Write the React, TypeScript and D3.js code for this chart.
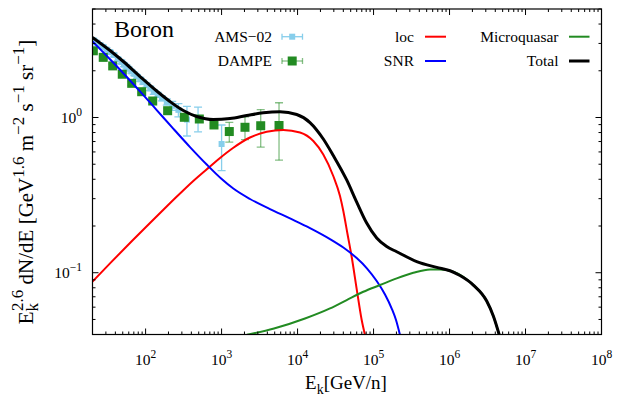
import React from 'react';
import * as d3 from 'd3';

// ---------- data ----------
const amsE = [20.5, 22.5, 25, 27.5, 30.5, 34, 38, 43, 48, 52, 56, 60, 65, 71, 77, 85, 93, 103, 115, 128, 144, 164, 190, 224, 270, 350, 490, 1000];
const amsV = [3.14, 3.04, 2.93, 2.85, 2.74, 2.64, 2.53, 2.38, 2.28, 2.19, 2.12, 2.06, 1.98, 1.91, 1.84, 1.76, 1.69, 1.62, 1.54, 1.46, 1.40, 1.33, 1.26, 1.19, 1.12, 0.97, 0.988, 0.675];
const amsErr = [0.09, 0.09, 0.08, 0.08, 0.08, 0.07, 0.07, 0.06, 0.06, 0.06, 0.06, 0.05, 0.05, 0.05, 0.05, 0.05, 0.05, 0.05, 0.05, 0.05, 0.05, 0.05, 0.06, 0.08, 0.11, 0.21, 0.18, 0.22];

const dampeE = [20.5, 27.7, 36.9, 49.3, 65.6, 88.8, 124, 195, 323, 509, 794, 1263, 2032, 3273, 5700];
const dampeV = [2.69, 2.44, 2.15, 1.90, 1.66, 1.466, 1.277, 1.106, 1.003, 0.978, 0.895, 0.812, 0.865, 0.885, 0.888];
const dampeErr = [0.08, 0.07, 0.06, 0.05, 0.05, 0.04, 0.04, 0.04, 0.04, 0.045, 0.04, 0.117, 0.145, 0.24, 0.357];

const totalE = [20, 34.0, 50.9, 84.4, 140, 209, 313, 470, 778, 1290, 2140, 3540, 5870, 9740, 14570, 21800, 29500, 44300, 60000, 81200, 110000, 149000, 201700, 369800, 678000, 1.015e6, 1.373e6, 2.055e6, 3.084e6, 3.77e6, 4.52e6];
const totalV = [3.28, 2.702, 2.295, 1.837, 1.481, 1.268, 1.109, 1.015, 0.970, 0.985, 1.030, 1.072, 1.088, 1.045, 0.928, 0.727, 0.569, 0.396, 0.2853, 0.209, 0.1674, 0.1475, 0.1365, 0.118, 0.1083, 0.103, 0.0959, 0.0833, 0.0657, 0.0526, 0.0397];

const snrE = [20, 34.0, 50.9, 84.4, 140, 231, 384, 637, 1003, 1426, 2365, 4336, 7950, 14570, 26720, 40000, 60000, 81200, 110000, 141500, 173400, 197500, 222900];
const snrV = [3.09, 2.371, 1.929, 1.473, 1.117, 0.848, 0.645, 0.498, 0.4015, 0.3485, 0.2985, 0.2572, 0.2238, 0.194, 0.1648, 0.1453, 0.1243, 0.1072, 0.0884, 0.0724, 0.0588, 0.0496, 0.0397];

const locE = [20, 34.0, 65.6, 114.2, 209, 424, 704, 953, 1413, 2365, 3924, 6490, 10770, 16110, 21800, 29500, 36170, 40000, 45400, 51580, 60000, 69820, 77190];
const locV = [0.0877, 0.1149, 0.1595, 0.2093, 0.2800, 0.3904, 0.4832, 0.548, 0.6358, 0.743, 0.809, 0.831, 0.800, 0.7054, 0.5773, 0.4198, 0.3119, 0.2497, 0.1775, 0.1262, 0.0785, 0.0496, 0.0397];

const mqE = [2160, 4896, 12520, 26720, 44300, 73300, 121600, 201700, 333600, 553400, 749000, 1.121e6, 1.518e6, 2.055e6, 3.084e6, 3.77e6, 4.52e6];
const mqV = [0.0398, 0.0437, 0.0507, 0.0589, 0.0667, 0.0754, 0.0833, 0.092, 0.0999, 0.1051, 0.1051, 0.1015, 0.0942, 0.0833, 0.0657, 0.0526, 0.0397];

const xTickExp = [2, 3, 4, 5, 6, 7, 8];
const yTickExp = [-1, 0];

// ---------- layout ----------
const W = 626, H = 396;
const X0 = 92.5, X1 = 601.5, Y0 = 9, Y1 = 334.5;
const FONT = "'Liberation Serif', 'Times New Roman', serif";

const C_AMS = '#87CEEB';
const C_GREEN = '#228B22';
const C_RED = '#FF0000';
const C_BLUE = '#0000FF';

export default function App() {
  const x = d3.scaleLog().domain([20, 1e8]).range([X0, X1]);
  const y = d3.scaleLog().domain([0.04, 5]).range([Y1, Y0]);
  const line = d3.line<[number, number]>().x(d => x(d[0])).y(d => y(d[1])).curve(d3.curveMonotoneX);
  const pts = (E: number[], V: number[]) => E.map((e, i) => [e, V[i]] as [number, number]);

  const xMinor: number[] = [];
  for (let k = 1; k <= 7; k++) for (let m = 2; m <= 9; m++) { const v = m * Math.pow(10, k); if (v >= 20 && v < 1e8) xMinor.push(v); }
  const yMinor: number[] = [];
  for (let k = -2; k <= 0; k++) for (let m = 2; m <= 9; m++) { const v = m * Math.pow(10, k); if (v >= 0.04 && v <= 5) yMinor.push(v); }

  const ticks: JSX.Element[] = [];
  xTickExp.forEach(e => {
    const px = x(Math.pow(10, e));
    ticks.push(<line key={'xM' + e} x1={px} x2={px} y1={Y1} y2={Y1 - 6} />);
    ticks.push(<line key={'xMt' + e} x1={px} x2={px} y1={Y0} y2={Y0 + 6} />);
  });
  xMinor.forEach((v, i) => {
    const px = x(v);
    ticks.push(<line key={'xm' + i} x1={px} x2={px} y1={Y1} y2={Y1 - 3} />);
    ticks.push(<line key={'xmt' + i} x1={px} x2={px} y1={Y0} y2={Y0 + 3} />);
  });
  yTickExp.forEach(e => {
    const py = y(Math.pow(10, e));
    ticks.push(<line key={'yM' + e} x1={X0} x2={X0 + 6} y1={py} y2={py} />);
    ticks.push(<line key={'yMr' + e} x1={X1} x2={X1 - 6} y1={py} y2={py} />);
  });
  yMinor.forEach((v, i) => {
    const py = y(v);
    ticks.push(<line key={'ym' + i} x1={X0} x2={X0 + 3} y1={py} y2={py} />);
    ticks.push(<line key={'ymr' + i} x1={X1} x2={X1 - 3} y1={py} y2={py} />);
  });

  const errBars = (E: number[], V: number[], Er: number[], color: string, op: number, key: string) =>
    E.map((e, i) => {
      const px = x(e);
      const hi = y(V[i] + Er[i]);
      const lo = y(Math.max(V[i] - Er[i], 0.001));
      return (
        <g key={key + i} stroke={color} strokeOpacity={op} strokeWidth={1.3}>
          <line x1={px} x2={px} y1={hi} y2={lo} />
          <line x1={px - 4} x2={px + 4} y1={hi} y2={hi} />
          <line x1={px - 4} x2={px + 4} y1={lo} y2={lo} />
        </g>
      );
    });

  const legRow1 = 36.7, legRow2 = 61;
  const legendText = (tx: number, ty: number, s: string) => (
    <text x={tx} y={ty + 5} textAnchor="end" fontSize={15.5} fontFamily={FONT}>{s}</text>
  );

  const SUP = 17;

  return (
    <svg width={W} height={H} style={{ position: 'absolute', left: 0, top: 0, background: '#fff' }}>
      <defs>
        <clipPath id="plotclip"><rect x={X0} y={Y0} width={X1 - X0} height={Y1 - Y0} /></clipPath>
      </defs>
      <rect x={0} y={0} width={W} height={H} fill="#fff" />

      <g clipPath="url(#plotclip)">
        {errBars(amsE, amsV, amsErr, C_AMS, 1, 'ae')}
        {amsE.map((e, i) => <rect key={'a' + i} x={x(e) - 3} y={y(amsV[i]) - 3} width={6} height={6} fill={C_AMS} />)}
        {errBars(dampeE, dampeV, dampeErr, C_GREEN, 0.55, 'de')}
        {dampeE.map((e, i) => <rect key={'d' + i} x={x(e) - 4.5} y={y(dampeV[i]) - 4.5} width={9} height={9} fill={C_GREEN} />)}

        <path d={line(pts(locE, locV)) || ''} fill="none" stroke={C_RED} strokeWidth={2} />
        <path d={line(pts(snrE, snrV)) || ''} fill="none" stroke={C_BLUE} strokeWidth={2} />
        <path d={line(pts(mqE, mqV)) || ''} fill="none" stroke={C_GREEN} strokeWidth={2} />
        <path d={line(pts(totalE, totalV)) || ''} fill="none" stroke="#000" strokeWidth={3} />
      </g>

      <g stroke="#000" strokeWidth={1}>{ticks}</g>
      <rect x={X0} y={Y0} width={X1 - X0} height={Y1 - Y0} fill="none" stroke="#000" strokeWidth={1.2} />

      {/* tick labels */}
      {xTickExp.map(e => (
        <text key={'xl' + e} x={x(Math.pow(10, e))} y={365} textAnchor="middle" fontSize={15.5} fontFamily={FONT}>
          <tspan>10</tspan><tspan dy={-7} fontSize={11.5}>{e}</tspan>
        </text>
      ))}
      {yTickExp.map(e => (
        <text key={'yl' + e} x={82} y={y(Math.pow(10, e)) + 5} textAnchor="end" fontSize={15.5} fontFamily={FONT}>
          <tspan>10</tspan><tspan dy={-7} fontSize={11.5}>{e < 0 ? '\u2212' + Math.abs(e) : String(e)}</tspan>
        </text>
      ))}

      {/* axis titles */}
      <text x={346} y={389} textAnchor="middle" fontSize={19} fontFamily={FONT}>
        <tspan>E</tspan><tspan dy={5} fontSize={14}>k</tspan><tspan dy={-5}>[GeV/n]</tspan>
      </text>
      <text transform="translate(33,182) rotate(-90)" textAnchor="middle" fontSize={21} fontFamily={FONT}>
        <tspan>E</tspan>
        <tspan dy={5} fontSize={SUP}>k</tspan>
        <tspan dx={-8} dy={-15} fontSize={SUP}>2.6</tspan>
        <tspan dy={10}> dN/dE [GeV</tspan>
        <tspan dy={-9} fontSize={SUP}>1.6</tspan>
        <tspan dy={9}> m</tspan>
        <tspan dy={-9} fontSize={SUP}>{'\u22122'}</tspan>
        <tspan dy={9}> s</tspan>
        <tspan dy={-9} fontSize={SUP}>{'\u22121'}</tspan>
        <tspan dy={9}> sr</tspan>
        <tspan dy={-9} fontSize={SUP}>{'\u22121'}</tspan>
        <tspan dy={9}>]</tspan>
      </text>

      {/* Boron label */}
      <text x={114} y={37.3} fontSize={24} fontFamily={FONT}>Boron</text>

      {/* legend */}
      {legendText(272, legRow1, 'AMS\u221202')}
      <g stroke={C_AMS} strokeWidth={1.3}>
        <line x1={282} x2={302.5} y1={legRow1} y2={legRow1} />
        <line x1={282} x2={282} y1={legRow1 - 3} y2={legRow1 + 3} />
        <line x1={302.5} x2={302.5} y1={legRow1 - 3} y2={legRow1 + 3} />
      </g>
      <rect x={292.2 - 3} y={legRow1 - 3} width={6} height={6} fill={C_AMS} />

      {legendText(272, legRow2, 'DAMPE')}
      <g stroke={C_GREEN} strokeOpacity={0.55} strokeWidth={1.3}>
        <line x1={282} x2={302.5} y1={legRow2} y2={legRow2} />
        <line x1={282} x2={282} y1={legRow2 - 3} y2={legRow2 + 3} />
        <line x1={302.5} x2={302.5} y1={legRow2 - 3} y2={legRow2 + 3} />
      </g>
      <rect x={292.2 - 4.5} y={legRow2 - 4.5} width={9} height={9} fill={C_GREEN} />

      {legendText(414, legRow1, 'loc')}
      <line x1={425} x2={446} y1={legRow1} y2={legRow1} stroke={C_RED} strokeWidth={2} />
      {legendText(414, legRow2, 'SNR')}
      <line x1={425} x2={446} y1={legRow2} y2={legRow2} stroke={C_BLUE} strokeWidth={2} />

      {legendText(558.5, legRow1, 'Microquasar')}
      <line x1={569} x2={589.5} y1={legRow1} y2={legRow1} stroke={C_GREEN} strokeWidth={2} />
      {legendText(558.5, legRow2, 'Total')}
      <line x1={569} x2={589.5} y1={legRow2} y2={legRow2} stroke="#000" strokeWidth={3} />
    </svg>
  );
}
